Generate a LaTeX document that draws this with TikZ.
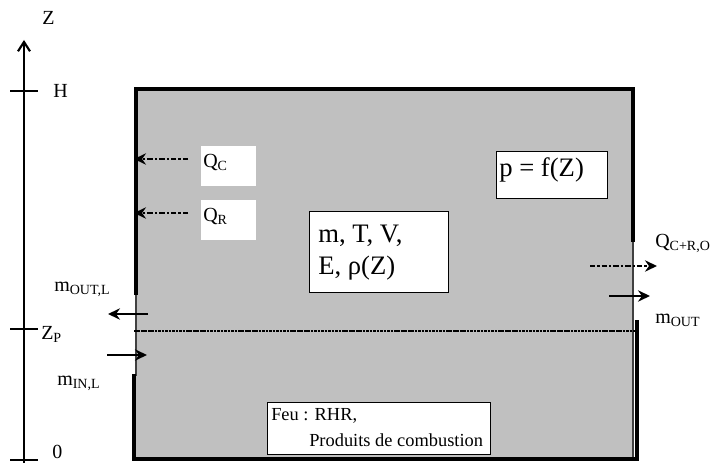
\documentclass[tikz,border=0pt]{standalone}
\usepackage{fontspec}
\setmainfont{Liberation Serif}
\usetikzlibrary{arrows.meta}
\begin{document}
\begin{tikzpicture}[x=0.75pt,y=-0.75pt,
  wall/.style={line width=2.6pt,line cap=rect},
  thinedge/.style={line width=0.8pt,draw=black!75},
  tick/.style={line width=0.8pt},
  wbox/.style={draw=black,line width=1.1pt,fill=white,inner sep=0pt,anchor=north west},
  plainbox/.style={fill=white,inner sep=0pt,anchor=north west},
  lbl/.style={inner sep=0pt,anchor=base west,font=\fontsize{15}{17}\selectfont},
  big/.style={inner sep=0pt,anchor=base west,align=left,font=\fontsize{20}{24}\selectfont},
  feu/.style={inner sep=0pt,anchor=base west,font=\fontsize{13.8}{19}\selectfont},
  flow/.style={line width=1.9pt,-{Stealth[length=9pt,width=8.5pt,inset=3pt]}},
  heat/.style={line width=2.2pt,dash pattern=on 4pt off 1.6pt on 1.6pt off 1.6pt,-{Stealth[length=9pt,width=8.5pt,inset=3pt]}},
  axis/.style={line width=1.6pt,-{Straight Barb[length=7pt,width=9pt,line width=1.6pt]}}
]
\useasboundingbox (0,0) rectangle (715,463);
% room
\fill[fill={rgb,255:red,192;green,192;blue,192}] (136,89) rectangle (633,459);
\draw[thinedge] (136,293) -- (136,376);
\draw[thinedge] (633,240) -- (633,459);
\draw[wall] (136,293) -- (136,89) -- (633,89) -- (633,240);
\draw[wall] (134,376) -- (134,459) -- (637,459) -- (637,322);
% neutral plane
\draw[line width=0.9pt,dash pattern=on 2pt off 0.6pt] (134,331) -- (638,331);
% axis
\coordinate (a0) at (24,463);
\coordinate (atop) at (24,40);
\draw[axis] (a0) -- (atop);
\draw[tick] (10,91) -- (38,91);
\draw[tick] (10,329) -- (38,329);
\draw[tick] (10,460) -- (38,460);
\node[lbl] (lz) at (42,25) {Z};
\node[lbl] (lh) at (53,98) {H};
\node[lbl] (lzp) at (41,340) {Z\textsubscript{P}};
\node[lbl] (l0) at (52,459) {0};
% boxes
\node[plainbox,minimum width=55pt*0.75,minimum height=40pt*0.75] (qcbox) at (201,146) {};
\node[plainbox,minimum width=55pt*0.75,minimum height=40pt*0.75] (qrbox) at (201,200) {};
\node[lbl] (qc) at (203,168) {Q\textsubscript{C}};
\node[lbl] (qr) at (203,222) {Q\textsubscript{R}};
\node[wbox,minimum width=139pt*0.75,minimum height=81pt*0.75] (mbox) at (309,211) {};
\node[big] (mtxt) at (318,275) {m, T, V,\\E, ρ(Z)};
\node[wbox,minimum width=111pt*0.75,minimum height=47pt*0.75] (pbox) at (496,151) {};
\node[big] (ptxt) at (499,177) {p = f(Z)};
\node[wbox,minimum width=223pt*0.75,minimum height=52pt*0.75] (fbox) at (267,402) {};
\node[feu] (f1) at (271,421) {Feu : RHR,};
\node[feu] (f2) at (309,447) {Produits de combustion};
% labels outside
\node[lbl] (moutl) at (54,292) {m\textsubscript{OUT,L}};
\node[lbl] (minl) at (57,386) {m\textsubscript{IN,L}};
\node[lbl] (mout) at (655,324) {m\textsubscript{OUT}};
\node[lbl] (qo) at (655,248) {Q\textsubscript{C+R,O}};
% arrows
\coordinate (qcs) at (188,159); \coordinate (qce) at (134,159);
\coordinate (qrs) at (188,213); \coordinate (qre) at (134,213);
\coordinate (qos) at (590,266); \coordinate (qoe) at (657,266);
\coordinate (mos) at (609,296); \coordinate (moe) at (650,296);
\coordinate (mls) at (148,314); \coordinate (mle) at (108,314);
\coordinate (mis) at (107,355); \coordinate (mie) at (147,355);
\draw[heat] (qcs) -- (qce);
\draw[heat] (qrs) -- (qre);
\draw[heat] (qos) -- (qoe);
\draw[flow] (mos) -- (moe);
\draw[flow] (mls) -- (mle);
\draw[flow] (mis) -- (mie);
\end{tikzpicture}
\end{document}
